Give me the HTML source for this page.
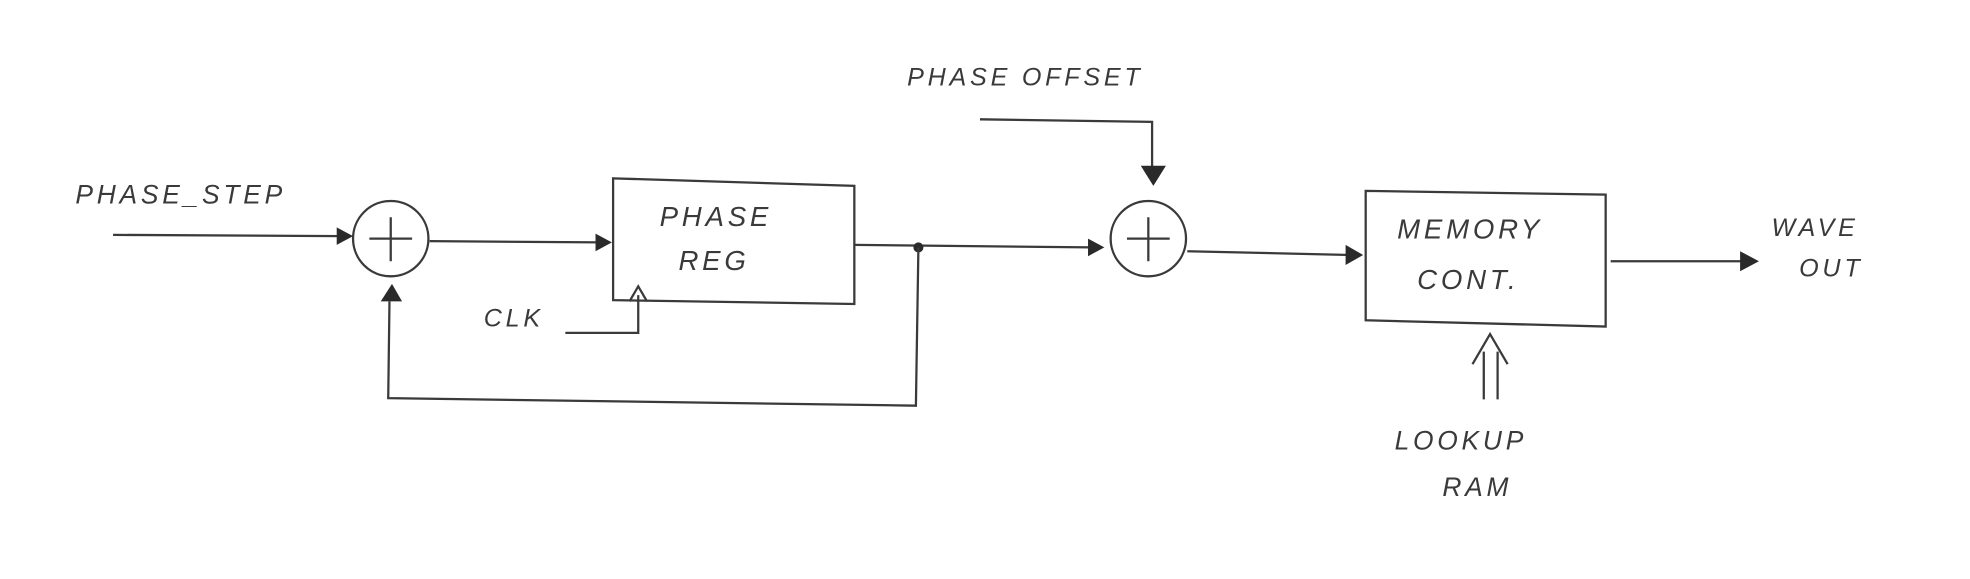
<!DOCTYPE html>
<html><head><meta charset="utf-8"><style>
html,body{margin:0;padding:0;background:#fff;}
svg{display:block}
text{font-family:"Liberation Sans",sans-serif;fill:#3a3a3a;font-style:italic;letter-spacing:3px;}
.s{stroke:#3a3a3a;stroke-width:1.8;fill:none;}
.a{fill:#2a2a2a;}
</style></head><body>
<svg width="1970" height="579" viewBox="0 0 1568 461" preserveAspectRatio="none">
<rect width="1568" height="461" fill="#fff"/>
<text x="60" y="162" font-size="21">PHASE_STEP</text>
<path class="s" d="M90 187 L272 188"/>
<polygon class="a" points="268,181 281,188 268,195"/>
<g>
<circle class="s" cx="311" cy="190" r="30"/>
<path class="s" d="M311 173 V208 M294 190 H328"/>
</g>
<path class="s" d="M342 192 L478 193"/>
<polygon class="a" points="474,186 487,193 474,200"/>
<g>
<path class="s" d="M488 142 L680 148 L680 242 L488 239 Z"/>
<text x="525" y="180" font-size="22">PHASE</text>
<text x="540" y="215" font-size="22">REG</text>
</g>
<text x="385" y="260" font-size="20">CLK</text>
<path class="s" d="M450 265 L508 265 L508 235 M501 240 L508 228 L515 240"/>
<path class="s" d="M680 195 L868 197"/>
<circle cx="731" cy="197" r="4" class="a"/>
<polygon class="a" points="866,190 879,197 866,204"/>
<path class="s" d="M731 197 L729 323 L309 317 L310 240"/>
<polygon class="a" points="303,240 312,226 320,240"/>
<text x="722" y="68" font-size="20">PHASE OFFSET</text>
<path class="s" d="M780 95 L917 97 L917 135"/>
<polygon class="a" points="908,132 918,148 928,132"/>
<g>
<circle class="s" cx="914" cy="190" r="30"/>
<path class="s" d="M914 173 V208 M897 190 H931"/>
</g>
<path class="s" d="M945 200 L1075 203"/>
<polygon class="a" points="1071,195 1085,203 1071,211"/>
<g>
<path class="s" d="M1087 152 L1278 155 L1278 260 L1087 255 Z"/>
<text x="1112" y="190" font-size="22">MEMORY</text>
<text x="1128" y="230" font-size="22">CONT.</text>
</g>
<path class="s" d="M1282 208 L1388 208"/>
<polygon class="a" points="1385,200 1400,208 1385,216"/>
<text x="1410" y="188" font-size="20">WAVE</text>
<text x="1432" y="220" font-size="20">OUT</text>
<path class="s" d="M1181 318 V280 M1192 318 V280 M1172 290 L1186 266 L1200 290"/>
<text x="1110" y="358" font-size="21">LOOKUP</text>
<text x="1148" y="395" font-size="21">RAM</text>
</svg>
</body></html>
